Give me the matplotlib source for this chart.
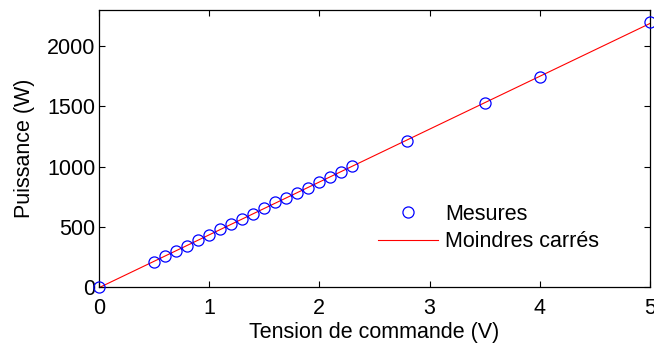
import numpy as np
import matplotlib.pyplot as plt

plt.rcParams['font.family'] = ['Liberation Sans', 'DejaVu Sans']

# mesures : tension de commande (V) et puissance (W)
tension = [0, 0.5, 0.6, 0.7, 0.8, 0.9, 1.0, 1.1, 1.2, 1.3, 1.4, 1.5, 1.6,
           1.7, 1.8, 1.9, 2.0, 2.1, 2.2, 2.3, 2.8, 3.5, 4.0, 5.0]
puissance = [0, 210, 257, 301, 343, 390, 431, 478, 522, 566, 608, 655, 702,
             738, 782, 823, 873, 915, 956, 1003, 1213, 1531, 1747, 2197]

# droite des moindres carres
a, b = np.polyfit(tension, puissance, 1)
x_fit = np.array([0, 5])
y_fit = a * x_fit + b

fs = 15.5
fig = plt.figure(figsize=(6.54, 3.45), dpi=100)
ax = fig.add_axes([0.151, 0.168, 0.843, 0.803])
ax.plot(tension, puissance, 'o', mfc='none', mec='blue', ms=8, mew=0.9,
        label='Mesures', clip_on=False, zorder=3)
ax.plot(x_fit, y_fit, '-', color='red', lw=0.8, label='Moindres carrés')

ax.set_xlim(0, 5)
ax.set_ylim(0, 2300)
ax.set_xticks([0, 1, 2, 3, 4, 5])
ax.set_yticks([0, 500, 1000, 1500, 2000])
ax.tick_params(direction='in', top=True, right=True, length=4, width=0.8,
               labelsize=fs)
ax.tick_params(axis='x', pad=8)
ax.tick_params(axis='y', pad=2.5)
for s in ax.spines.values():
    s.set_linewidth(0.9)
ax.set_xlabel('Tension de commande (V)', fontsize=fs, labelpad=2)
ax.set_ylabel('Puissance (W)', fontsize=fs, labelpad=8.5)

ax.legend(loc='center left', bbox_to_anchor=(0.506, 0.213), frameon=False,
          fontsize=fs, borderpad=0, borderaxespad=0, handlelength=2.79,
          handletextpad=0.33, labelspacing=0.3)

fig.savefig('out.png', dpi=100)
